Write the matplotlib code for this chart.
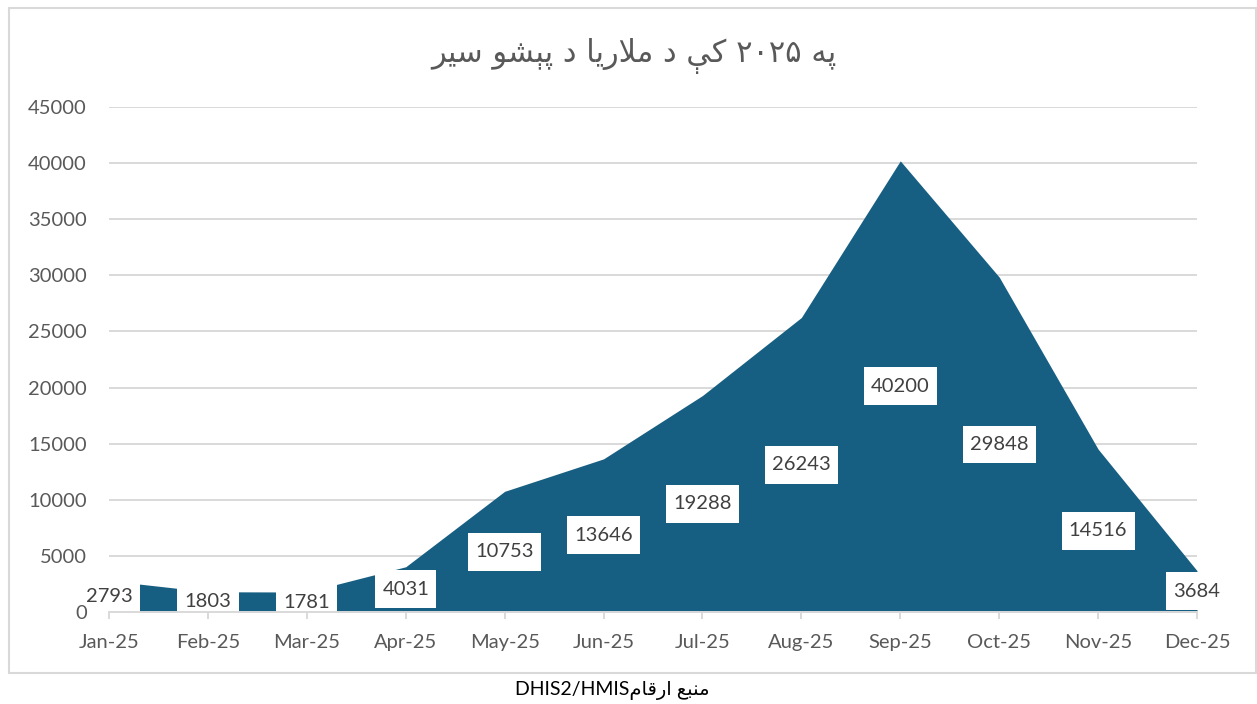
import matplotlib
matplotlib.use("Agg")
import matplotlib.pyplot as plt
from matplotlib.patches import Rectangle
from matplotlib.path import Path

months = ["Jan-25", "Feb-25", "Mar-25", "Apr-25", "May-25", "Jun-25",
          "Jul-25", "Aug-25", "Sep-25", "Oct-25", "Nov-25", "Dec-25"]
cases = [2793, 1803, 1781, 4031, 10753, 13646, 19288, 26243, 40200, 29848, 14516, 3684]
yticks = list(range(0, 45001, 5000))

title_text = "په ۲۰۲۵ کې د ملاریا د پېښو سیر"
source_arabic = "منبع ارقام"
source_latin = "DHIS2/HMIS"

AREA = "#175f82"
GRID = "#d9d9d9"
GREY = "#595959"

# matplotlib has no arabic shaping, so pick presentation forms by hand
# (isolated, final, initial, medial); None = letter does not join forward
FORMS = {
    "ا": ("\uFE8D", "\uFE8E", None, None),
    "ب": ("\uFE8F", "\uFE90", "\uFE91", "\uFE92"),
    "پ": ("\uFB56", "\uFB57", "\uFB58", "\uFB59"),
    "د": ("\uFEA9", "\uFEAA", None, None),
    "ر": ("\uFEAD", "\uFEAE", None, None),
    "س": ("\uFEB1", "\uFEB2", "\uFEB3", "\uFEB4"),
    "ښ": ("\uFEB5", "\uFEB6", "\uFEB7", "\uFEB8"),  # no own forms in unicode
    "ع": ("\uFEC9", "\uFECA", "\uFECB", "\uFECC"),
    "ق": ("\uFED5", "\uFED6", "\uFED7", "\uFED8"),
    "ک": ("\uFB8E", "\uFB8F", "\uFB90", "\uFB91"),
    "ل": ("\uFEDD", "\uFEDE", "\uFEDF", "\uFEE0"),
    "م": ("\uFEE1", "\uFEE2", "\uFEE3", "\uFEE4"),
    "ن": ("\uFEE5", "\uFEE6", "\uFEE7", "\uFEE8"),
    "ه": ("\uFEE9", "\uFEEA", "\uFEEB", "\uFEEC"),
    "و": ("\uFEED", "\uFEEE", None, None),
    "ی": ("\uFBFC", "\uFBFD", "\uFBFE", "\uFBFF"),
    "ې": ("\uFBE4", "\uFBE5", "\uFBE6", "\uFBE7"),
}


def shape_word(word):
    if not any(c in FORMS for c in word):
        return word
    res = []
    i = 0
    n = len(word)
    while i < n:
        c = word[i]
        if c not in FORMS:
            res.append(c)
            i += 1
            continue
        prev = word[i - 1] if i > 0 else None
        joins_prev = prev in FORMS and FORMS[prev][2] is not None
        if c == "ل" and i + 1 < n and word[i + 1] == "ا":
            res.append("\uFEFC" if joins_prev else "\uFEFB")
            i += 2
            continue
        nxt = word[i + 1] if i + 1 < n else None
        joins_next = nxt in FORMS and FORMS[c][2] is not None
        iso, fin, ini, med = FORMS[c]
        if joins_prev and joins_next:
            g = med
        elif joins_prev:
            g = fin
        elif joins_next:
            g = ini
        else:
            g = iso
        res.append(g)
        i += 1
    return "".join(reversed(res))


def rtl(text):
    return " ".join(shape_word(w) for w in reversed(text.split(" ")))


def label_box(x0, y0, width, height, mutation_size):
    # white box, a bit more padding top/bottom than left/right
    px = 0.36 * mutation_size
    py = 0.52 * mutation_size
    x0, y0 = x0 - px, y0 - py
    x1, y1 = x0 + width + 2 * px, y0 + height + 2 * py
    return Path([(x0, y0), (x1, y0), (x1, y1), (x0, y1), (x0, y0)], closed=True)


plt.rcParams["font.family"] = ["Lato", "DejaVu Sans"]

W, H = 1257, 704
fig = plt.figure(figsize=(W / 100, H / 100), dpi=100)
ax = fig.add_axes([109 / W, (H - 612) / H, (1197 - 109) / W, (612 - 107) / H])

x = list(range(len(months)))
for t in yticks[1:]:
    ax.axhline(t, color=GRID, lw=1.4, zorder=1)
ax.fill_between(x, cases, color=AREA, lw=0, zorder=2)

ax.set_xlim(0, len(months) - 1)
ax.set_ylim(0, 45000)
ax.set_xticks(x)
ax.set_xticklabels(months)
ax.set_yticks(yticks)
ax.set_yticklabels([str(t) for t in yticks])
ax.set_axisbelow(False)  # tick labels on top of the data label boxes
for side in ["left", "right", "top"]:
    ax.spines[side].set_visible(False)
ax.spines["bottom"].set_color(GRID)
ax.spines["bottom"].set_linewidth(1.4)
ax.tick_params(axis="x", length=5, width=1.4, color=GRID, labelcolor=GREY,
               labelsize=14.5, pad=11)
ax.tick_params(axis="y", length=0, labelcolor=GREY, labelsize=14.5, pad=16)

for xi, v in zip(x, cases):
    ax.text(xi, v / 2, str(v), ha="center", va="center", fontsize=14.5,
            color="#404040", zorder=2.2, clip_on=False,
            bbox=dict(boxstyle=label_box, fc="white", ec="none"))

fig.text(634 / W, 1 - 56 / H, rtl(title_text), ha="center", va="center",
         fontsize=22, color=GREY, family="DejaVu Sans")

fig.text(612 / W, 1 - 690 / H, source_latin + rtl(source_arabic), ha="center",
         va="center", fontsize=14, color="black", family=["Lato", "DejaVu Sans"])

fig.patches.append(Rectangle((9 / W, (H - 673) / H), (1256 - 9) / W, (673 - 8) / H,
                             transform=fig.transFigure, fill=False, ec=GRID, lw=1.5))

fig.savefig("out.png", dpi=100)
